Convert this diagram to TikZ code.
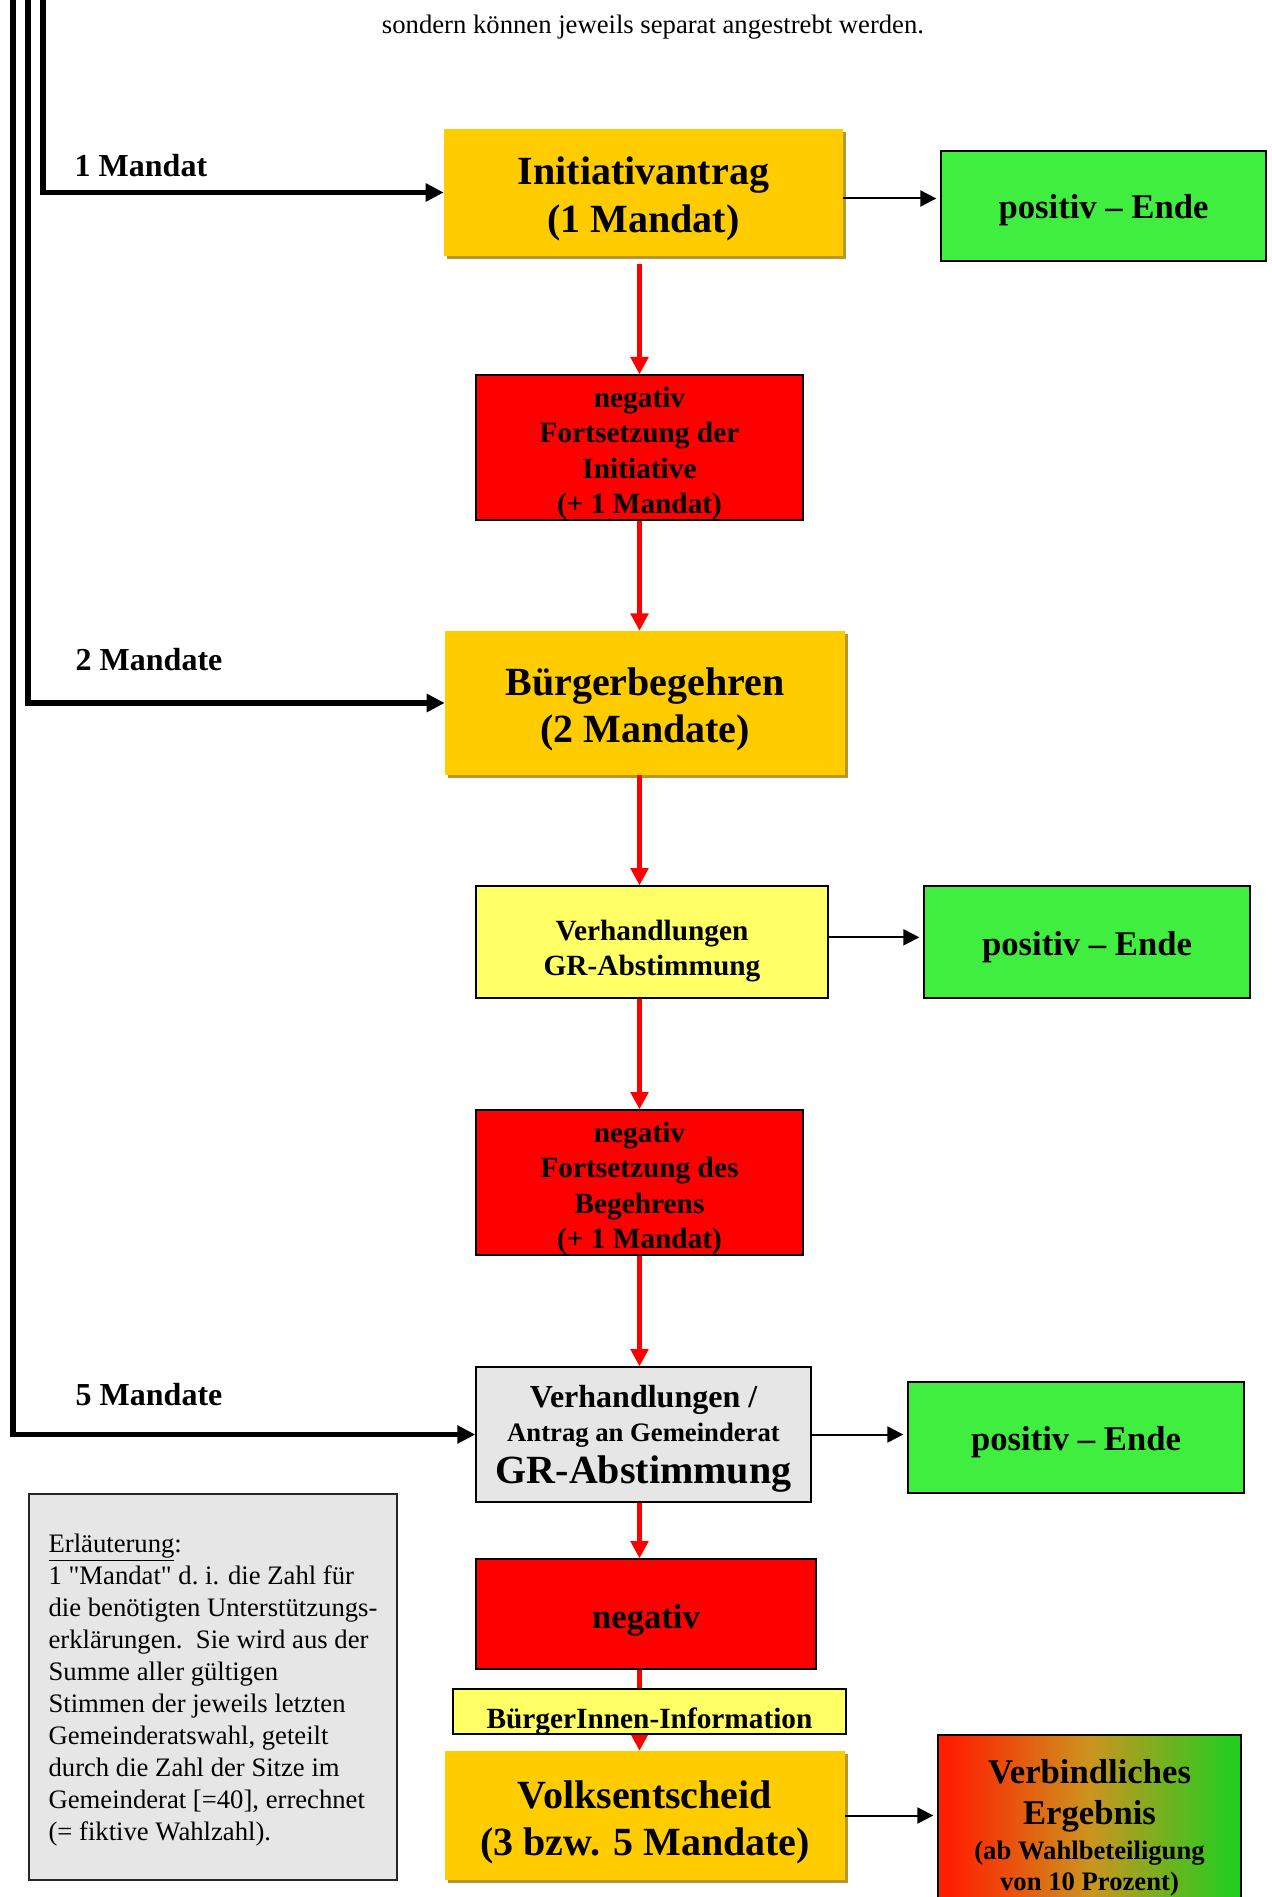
\documentclass[tikz,border=0pt]{standalone}
\usepackage{fontspec}
\setmainfont{Liberation Serif}[Ligatures=TeXOff]
\usetikzlibrary{arrows.meta,shadows}

\definecolor{mandatorange}{HTML}{FFCC00}
\definecolor{schatten}{HTML}{B8962E}
\definecolor{positivgruen}{HTML}{40EE40}
\definecolor{negativrot}{HTML}{FF0000}
\definecolor{hellgelb}{HTML}{FFFF66}
\definecolor{hellgrau}{HTML}{E6E6E6}

\newcommand{\hoch}[1]{\rule{0pt}{#1}}

\pgfdeclarehorizontalshading{rotgruen}{100bp}{rgb(0bp)=(1,0.1,0); rgb(27bp)=(1,0.12,0); rgb(50bp)=(0.8,0.58,0.12); rgb(73bp)=(0.15,0.8,0.12); rgb(100bp)=(0.12,0.8,0.12)}

\begin{document}
\begin{tikzpicture}[
  x=0.75pt, y=-0.75pt,
  boxsize/.style 2 args={minimum width=#1*0.75pt, minimum height=#2*0.75pt},
  rahmen/.style={draw=black, line width=1pt, align=center, inner sep=0pt},
  orangebox/.style={fill=mandatorange, align=center, inner sep=0pt, text depth=-7.8pt,
    drop shadow={shadow xshift=2.5pt, shadow yshift=-2.5pt, fill=schatten, opacity=1},
    font=\fontsize{30}{35.5}\selectfont\bfseries},
  positivbox/.style={rahmen, fill=positivgruen, text depth=-5pt, font=\fontsize{26}{30}\selectfont\bfseries},
  negativbox/.style={rahmen, fill=negativrot, text depth=-10.6pt, font=\fontsize{22}{26.5}\selectfont\bfseries},
  verhbox/.style={rahmen, fill=hellgelb, text depth=-17.5pt, font=\fontsize{22}{26}\selectfont\bfseries},
  grbox/.style={rahmen, fill=hellgrau, text depth=-2.5pt, font=\fontsize{24}{25.5}\selectfont\bfseries},
  ergebnisbox/.style={rahmen, shade, shading=rotgruen, font=\fontsize{26}{31}\selectfont\bfseries},
  erlbox/.style={draw=black!85, line width=1pt, fill=hellgrau, align=left,
    inner sep=0pt, text depth=-10pt, font=\fontsize{20}{24}\selectfont},
  mandatlabel/.style={anchor=base west, font=\fontsize{24}{28}\selectfont\bfseries},
  mandatpfeil/.style={line width=4.2pt, -{Triangle[length=13.5pt,width=13pt]}},
  rotpfeil/.style={draw=red, line width=3.5pt, -{Triangle[length=13pt,width=13pt]}},
  endpfeil/.style={line width=1.5pt, shorten >=3pt, -{Triangle[length=12pt,width=12pt]}}
]
\useasboundingbox (0,0) rectangle (1271,1897);

\node[anchor=base, font=\fontsize{20}{24}\selectfont] (hinweis) at (653,33.5) {sondern können jeweils separat angestrebt werden.};

% Stufen
\node[orangebox, boxsize={399}{127}] (init) at (643.5,192.5) {\hoch{24pt}Initiativantrag\\(1 Mandat)};
\node[positivbox, boxsize={325}{110}] (pos1) at (1103.5,206) {\hoch{19.5pt}positiv – Ende};
\node[negativbox, boxsize={327}{145}] (neg1) at (639.5,447.5) {\hoch{19.5pt}negativ\\Fortsetzung der\\Initiative\\(+ 1 Mandat)};
\node[orangebox, boxsize={400}{144}] (begehren) at (645,703) {\hoch{24pt}Bürgerbegehren\\(2 Mandate)};
\node[verhbox, boxsize={352}{112}] (verh) at (652,942) {\hoch{24pt}Verhandlungen\\GR-Abstimmung};
\node[positivbox, boxsize={326}{112}] (pos2) at (1087,942) {\hoch{19.5pt}positiv – Ende};
\node[negativbox, boxsize={327}{145}] (neg2) at (639.5,1182.5) {\hoch{19.5pt}negativ\\Fortsetzung des\\Begehrens\\(+ 1 Mandat)};
\node[grbox, boxsize={335}{135}] (gr) at (643.5,1434.5) {Verhandlungen /\\{\fontsize{20}{24}\selectfont Antrag an Gemeinderat}\\[6.5pt]{\fontsize{30}{36}\selectfont GR-Abstimmung}};
\node[positivbox, boxsize={336}{111}] (pos3) at (1076,1437.5) {\hoch{19.5pt}positiv – Ende};
\node[negativbox, font=\fontsize{26}{30}\selectfont\bfseries, text depth=-7pt, boxsize={340}{110}] (neg3) at (646,1614) {\hoch{21.3pt}negativ};
\node[orangebox, text depth=-9.8pt, boxsize={400}{129}] (volk) at (645,1815.5) {\hoch{25pt}Volksentscheid\\(3 bzw. 5 Mandate)};

% rote Pfeile
\draw[rotpfeil, shorten <=6pt] (neg1.north |- init.south) -- (neg1.north);
\draw[rotpfeil] (neg1.south) -- (neg1.south |- begehren.north);
\draw[rotpfeil] (neg2.north |- begehren.south) -- (neg2.north |- verh.north);
\draw[rotpfeil] (neg2.north |- verh.south) -- (neg2.north);
\draw[rotpfeil] (neg2.south) -- (neg2.south |- gr.north);
\draw[rotpfeil] (neg2.south |- gr.south) -- (neg2.south |- neg3.north);
\draw[rotpfeil] (neg2.south |- neg3.south) -- (neg2.south |- volk.north);

\node[verhbox, text depth=-20.6pt, boxsize={393}{45}] (info) at (649.5,1711.5) {\hoch{26pt}BürgerInnen-Information};
\node[ergebnisbox, boxsize={303}{185}] (ergebnis) at (1089.5,1827.5) {Verbindliches\\Ergebnis\\[-5pt]{\fontsize{20}{24}\selectfont (ab Wahlbeteiligung}\\[-8pt]{\fontsize{20}{24}\selectfont von 10 Prozent)}};

% positiv
\draw[endpfeil] ([yshift=-4.5pt]init.east) -- ([yshift=-4.5pt]init.east -| pos1.west);
\draw[endpfeil] ([yshift=3.5pt]verh.east) -- ([yshift=3.5pt]verh.east -| pos2.west);
\draw[endpfeil] (gr.east) -- (gr.east -| pos3.west);
\draw[endpfeil] (volk.east) -- (volk.east -| ergebnis.west);

% Mandate
\coordinate (start1) at (43,-5);
\coordinate (start2) at (28,-5);
\coordinate (start3) at (13,-5);
\draw[mandatpfeil] (start1) |- (init.west);
\draw[mandatpfeil] (start2) |- (begehren.west);
\draw[mandatpfeil] (start3) |- (gr.west);
\node[mandatlabel] (m1) at (70,177) {1 Mandat};
\node[mandatlabel] (m2) at (71,670) {2 Mandate};
\node[mandatlabel] (m5) at (71,1405) {5 Mandate};

\node[erlbox, boxsize={368}{386}] (erl) at (213,1687) {\underline{Erläuterung}:\\1 "Mandat" d.~i. die Zahl für\\die benötigten Unterstützungs-\\erklärungen.\ \ Sie wird aus der\\Summe aller gültigen\\Stimmen der jeweils letzten\\Gemeinderatswahl, geteilt\\durch die Zahl der Sitze im\\Gemeinderat [=40], errechnet\\(= fiktive Wahlzahl).};
\end{tikzpicture}
\end{document}
